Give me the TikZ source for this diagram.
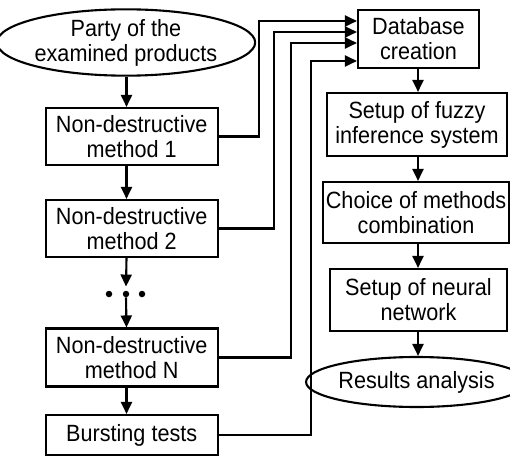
\documentclass[tikz,border=0pt]{standalone}
\usepackage{fontspec}
\setmainfont{Liberation Sans}[FakeStretch=0.92]
\usetikzlibrary{shapes.geometric,arrows.meta}
\begin{document}
\begin{tikzpicture}[x=1pt,y=-1pt,
  lw/.style={line width=2.1pt},
  txt/.style={font=\fontsize{23.5}{25}\selectfont},
  box/.style={draw,lw,rectangle,inner sep=0pt,align=center,txt},
  oval/.style={draw,lw,ellipse,inner sep=0pt,align=center,txt},
  arr/.style={lw,-{Triangle[length=12pt,width=11pt]}},
  dot/.style={circle,fill,inner sep=0pt,minimum size=6.5pt}]
\useasboundingbox (0,0) rectangle (510,457);
% left column
\node[oval,minimum width=232pt,minimum height=59pt] (party) at (126,42.5) {Party of the\\examined products};
\node[box,minimum width=172pt,minimum height=57pt] (nd1) at (131.7,136.5) {Non-destructive\\method 1};
\node[box,minimum width=172pt,minimum height=57pt] (nd2) at (131.7,228.5) {Non-destructive\\method 2};
\node[dot] (d1) at (109,294) {};
\node[dot] (d2) at (126,294) {};
\node[dot] (d3) at (142,294) {};
\node[box,minimum width=172pt,minimum height=58pt] (ndn) at (131.7,357.5) {Non-destructive\\method N};
\node[box,minimum width=172pt,minimum height=40pt] (burst) at (131.7,435) {Bursting tests};
% right column
\node[box,minimum width=121pt,minimum height=58pt] (db) at (418.5,39) {Database\\creation};
\node[box,minimum width=180pt,minimum height=63pt] (fuzzy) at (417,124.5) {Setup of fuzzy\\inference system};
\node[box,minimum width=186pt,minimum height=61pt] (choice) at (416,212.5) {Choice of methods\\combination};
\node[box,minimum width=177pt,minimum height=62pt] (neural) at (418.5,300) {Setup of neural\\network};
\node[oval,minimum width=187pt,minimum height=50pt] (res) at (416.5,382) {Results analysis};
% vertical arrows left
\coordinate (ax) at (126.5,0);
\draw[arr] (party.south -| ax) -- (nd1.north -| ax);
\draw[arr] (nd1.south -| ax) -- (nd2.north -| ax);
\draw[arr] (nd2.south -| ax) -- ([yshift=4pt]d2.north);
\draw[arr] (d2.south) -- (ndn.north -| ax);
\draw[arr] (ndn.south -| ax) -- (burst.north -| ax);
% vertical arrows right
\coordinate (bx) at (418,0);
\draw[arr] (db.south -| bx) -- (fuzzy.north -| bx);
\draw[arr] (fuzzy.south -| bx) -- (choice.north -| bx);
\draw[arr] (choice.south -| bx) -- (neural.north -| bx);
\draw[arr] (neural.south -| bx) -- (res.north -| bx);
% feed lines
\coordinate (k1) at (259,21);
\coordinate (k2) at (274,32);
\coordinate (k3) at (291,43);
\coordinate (k4) at (311,61);
\draw[arr] (nd1.east) -| (k1) -- (k1 -| db.west);
\draw[arr] (nd2.east) -| (k2) -- (k2 -| db.west);
\draw[arr] (ndn.east) -| (k3) -- (k3 -| db.west);
\draw[arr] (burst.east) -| (k4) -- (k4 -| db.west);
\end{tikzpicture}
\end{document}
